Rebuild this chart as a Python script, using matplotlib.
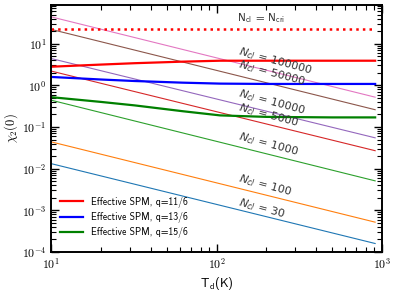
import matplotlib
matplotlib.use("Agg")
import matplotlib.pyplot as plt
from matplotlib.ticker import FuncFormatter, LogLocator
import numpy as np

plt.rcParams['mathtext.fontset'] = 'cm'
plt.rcParams['font.family'] = ['cmss10', 'DejaVu Sans']
plt.rcParams['axes.unicode_minus'] = True

# thin reference lines: chi_2(0) vs T_d for several N_cl
td_line = [10, 910]
ncl_values = [30, 100, 1000, 5000, 10000, 50000, 100000]
chi_lines = [
    [0.0132, 1.6e-4],
    [0.044, 5.2e-4],
    [0.44, 5.1e-3],
    [2.2, 0.027],
    [4.4, 0.055],
    [22.0, 0.26],
    [44.0, 0.52],
]
line_colors = ['#1f77b4', '#ff7f0e', '#2ca02c', '#d62728', '#9467bd', '#8c564b', '#e377c2']

# critical line
td_cri = [10, 910]
chi_cri = [22.0, 22.0]

# effective SPM curves
td_spm = [10, 20, 32, 62, 105, 200, 500, 910]
chi_q11 = [2.8, 3.15, 3.4, 3.7, 3.9, 3.9, 3.9, 3.9]
chi_q13 = [1.59, 1.38, 1.27, 1.16, 1.10, 1.08, 1.08, 1.08]
chi_q15 = [0.52, 0.40, 0.33, 0.24, 0.19, 0.175, 0.17, 0.17]
spm_labels = ['Effective SPM, q=11/6', 'Effective SPM, q=13/6', 'Effective SPM, q=15/6']
spm_colors = ['#ff0000', '#0000ff', '#008000']

# label positions
lab_td = 132
lab_y = [1.1e-3, 0.004, 0.039, 0.19, 0.39, 1.95, 3.8]

fig = plt.figure(figsize=(3.97, 2.91), dpi=100)
ax = fig.add_axes([0.129, 0.134, 0.833, 0.849])

for n, vals, c in zip(ncl_values, chi_lines, line_colors):
    ax.plot(td_line, vals, color=c, lw=0.8)

ax.plot(td_cri, chi_cri, color='#ff0000', lw=1.8, ls=':')

for ys, lab, c in zip([chi_q11, chi_q13, chi_q15], spm_labels, spm_colors):
    ax.plot(td_spm, ys, color=c, lw=1.6, label=lab)

for n, yv in zip(ncl_values, lab_y):
    ax.text(lab_td, yv, r'$N_{cl}\, =\, %d$' % n, rotation=-15, fontsize=8,
            ha='left', va='center', color='#333333', math_fontfamily='dejavusans')

ax.text(185, 42, r'N$_\mathsf{cl}$ = N$_\mathsf{cri}$', fontsize=8, ha='center', va='center',
        color='#333333')

ax.set_xscale('log')
ax.set_yscale('log')
ax.set_xlim(10, 1000)
ax.set_ylim(1e-4, 85)

def fmt(v, pos):
    e = int(round(np.log10(v)))
    return r'$10^{%d}$' % e

ax.xaxis.set_major_formatter(FuncFormatter(fmt))
ax.yaxis.set_major_formatter(FuncFormatter(fmt))

ax.set_xlabel(r'T$_\mathsf{d}$(K)', fontsize=9, labelpad=2)
ax.set_ylabel(r'$\chi_2(0)$', fontsize=9, labelpad=1)

ax.tick_params(which='both', direction='in', top=True, right=True, labelsize=8.5)
ax.tick_params(which='major', length=6, width=1.0)
ax.tick_params(which='minor', length=3.5, width=0.8)
for s in ax.spines.values():
    s.set_linewidth(1.4)

ax.legend(loc='lower left', frameon=False, fontsize=7, handlelength=2.4,
          bbox_to_anchor=(0.0, 0.02), labelspacing=0.45)

fig.savefig('out.png', dpi=100)
